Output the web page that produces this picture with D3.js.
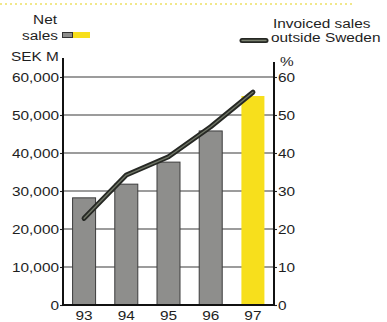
<!DOCTYPE html>
<html><head><meta charset="utf-8">
<script src="https://cdn.jsdelivr.net/npm/d3@7"></script>
<style>
html,body{margin:0;padding:0;background:#fff;}
svg{display:block;}
text{font-family:"Liberation Sans",Arial,Helvetica,sans-serif;fill:#1e1e1e;}
</style></head>
<body>
<script>
const years = ["93","94","95","96","97"];
const netSales = [28200, 31800, 37600, 45800, 55000];
const invoicedPct = [22.8, 34.2, 39.0, 46.9, 56.0];
const leftTicks = [0, 10000, 20000, 30000, 40000, 50000, 60000];
const rightTicks = [0, 10, 20, 30, 40, 50, 60];

const W = 387, H = 322, SX = 1.14, FS = 13.5;
const svg = d3.select("body").append("svg").attr("width", W).attr("height", H);

const x = d3.scaleBand().domain(years).range([63, 274]).paddingInner(0.455).paddingOuter(0.227);
const yL = d3.scaleLinear().domain([0, 60000]).range([305, 77]);
const yR = d3.scaleLinear().domain([0, 60]).range([305, 77]);

function label(px, py, t, anchor) {
  return svg.append("text").attr("transform", `translate(${px},${py}) scale(${SX},1)`)
    .attr("text-anchor", anchor || "start").style("font-size", FS + "px").text(t);
}

// top dotted decoration
svg.append("line").attr("x1", 0).attr("x2", 354).attr("y1", 4).attr("y2", 4)
  .attr("stroke", "#f1e88a").attr("stroke-width", 2).attr("stroke-dasharray", "2,3");

// gridlines
svg.append("g").selectAll("line").data(leftTicks.filter(d => d > 0)).join("line")
  .attr("x1", 63).attr("x2", 274).attr("y1", d => yL(d)).attr("y2", d => yL(d))
  .attr("stroke", "#3a3a3a").attr("stroke-width", 1.1);

// bars
svg.append("g").selectAll("rect").data(netSales).join("rect")
  .attr("x", (d, i) => x(years[i])).attr("width", x.bandwidth())
  .attr("y", d => yL(d)).attr("height", d => yL(0) - yL(d))
  .attr("fill", (d, i) => i === years.length - 1 ? "#f7df1c" : "#8e8e8c")
  .attr("stroke", (d, i) => i === years.length - 1 ? "none" : "#3c3c3c")
  .attr("stroke-width", 1);

// left axis
const gL = svg.append("g").attr("transform", "translate(63,0)")
  .call(d3.axisLeft(yL).tickValues(leftTicks).tickFormat(d3.format(",")).tickSize(3).tickPadding(1));
gL.select(".domain").remove();
gL.selectAll(".tick line").attr("stroke", "#222").attr("stroke-width", 1.1);
gL.selectAll(".tick text").attr("x", -4 / SX).attr("dy", "0.36em")
  .attr("transform", `scale(${SX},1)`).style("font-size", FS + "px").attr("fill", "#1e1e1e")
  .style("font-family", '"Liberation Sans",Arial,sans-serif');

// right axis
const gR = svg.append("g").attr("transform", "translate(274,0)")
  .call(d3.axisRight(yR).tickValues(rightTicks).tickSize(3).tickPadding(1));
gR.select(".domain").remove();
gR.selectAll(".tick line").attr("stroke", "#222").attr("stroke-width", 1.1);
gR.selectAll(".tick text").attr("x", 4 / SX).attr("dy", "0.36em")
  .attr("transform", `scale(${SX},1)`).style("font-size", FS + "px").attr("fill", "#1e1e1e")
  .style("font-family", '"Liberation Sans",Arial,sans-serif');

// axis lines
svg.append("line").attr("x1", 63).attr("x2", 63).attr("y1", 58).attr("y2", 306)
  .attr("stroke", "#111").attr("stroke-width", 2);
svg.append("line").attr("x1", 274).attr("x2", 274).attr("y1", 62).attr("y2", 306)
  .attr("stroke", "#111").attr("stroke-width", 2);
svg.append("line").attr("x1", 62).attr("x2", 275).attr("y1", yL(0)).attr("y2", yL(0))
  .attr("stroke", "#111").attr("stroke-width", 2);

// x labels
years.forEach(yv => label(x(yv) + x.bandwidth() / 2, 320, yv, "middle"));

// line
const line = d3.line().x((d, i) => x(years[i]) + x.bandwidth() / 2).y(d => yR(d));
svg.append("path").datum(invoicedPct).attr("d", line).attr("fill", "none")
  .attr("stroke", "#262824").attr("stroke-width", 5).attr("stroke-linecap", "round").attr("stroke-linejoin", "round");
svg.append("path").datum(invoicedPct).attr("d", line).attr("fill", "none")
  .attr("stroke", "#6f7566").attr("stroke-width", 1.4).attr("stroke-linecap", "round").attr("stroke-linejoin", "round");

// left legend / titles
label(57, 24, "Net", "end");
label(58, 40, "sales", "end");
svg.append("rect").attr("x", 62.5).attr("y", 32.5).attr("width", 10).attr("height", 5)
  .attr("fill", "#8e8e8c").attr("stroke", "#333").attr("stroke-width", 1);
svg.append("rect").attr("x", 73).attr("y", 32).attr("width", 17).attr("height", 6).attr("fill", "#f7df1c");
label(11, 61, "SEK M", "start");

// right legend
label(273, 28, "Invoiced sales", "start");
label(271, 42, "outside Sweden", "start");
svg.append("line").attr("x1", 242).attr("x2", 266).attr("y1", 40.5).attr("y2", 40.5)
  .attr("stroke", "#262824").attr("stroke-width", 5).attr("stroke-linecap", "round");
svg.append("line").attr("x1", 242).attr("x2", 266).attr("y1", 40.5).attr("y2", 40.5)
  .attr("stroke", "#7b8270").attr("stroke-width", 1.4).attr("stroke-linecap", "round");
label(280, 66, "%", "start");
</script>
</body></html>
